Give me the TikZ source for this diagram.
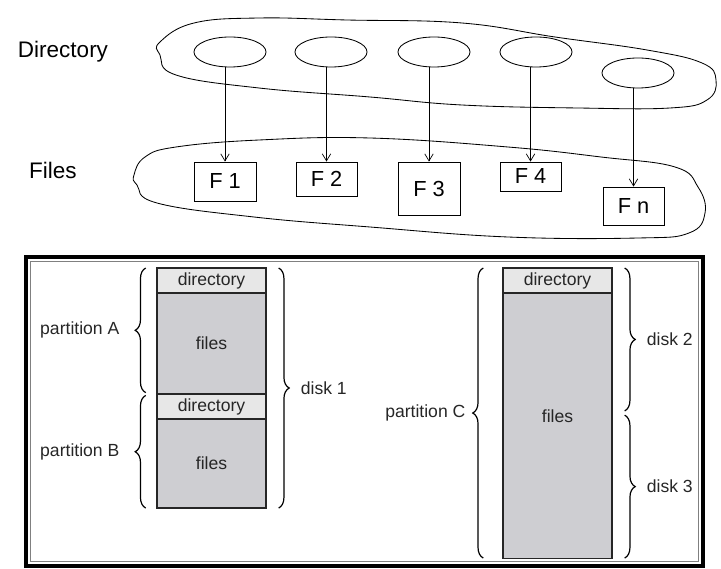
\documentclass[tikz,border=0pt]{standalone}
\usepackage{fontspec}
\setmainfont{Liberation Sans}
\usetikzlibrary{shapes.geometric,positioning,calc,decorations.pathreplacing,arrows.meta}

\definecolor{dirgray}{RGB}{231,231,231}
\definecolor{filegray}{RGB}{206,206,210}

\begin{document}
\begin{tikzpicture}[x=0.025cm,y=-0.025cm,>={Straight Barb[length=5pt,width=6pt]},
    title/.style={font=\fontsize{16}{18}\selectfont},
    dirnode/.style={ellipse,draw,line width=0.6pt,minimum width=1.8cm,minimum height=0.75cm},
    filenode/.style={rectangle,draw,line width=0.6pt,font=\fontsize{15.5}{17}\selectfont},
    dirbox/.style={rectangle,draw=black!85,line width=0.8pt,fill=dirgray,minimum width=2.725cm,
        minimum height=0.625cm,outer sep=0pt,inner sep=0pt,text=black!85,font=\fontsize{12.5}{14}\selectfont},
    filesbox/.style={dirbox,fill=filegray},
    brace/.style={decorate,decoration={brace,amplitude=7.5pt},line width=0.85pt},
    lbl/.style={font=\fontsize{12.5}{14}\selectfont,text=black!85}]
  \useasboundingbox (0,0) rectangle (721,569);

  % single-level directory
  \node[title] (dirlbl) at (63,52) {Directory};
  \node[title] (fileslbl) at (53,170) {Files};
  \draw[line width=0.6pt] plot[smooth cycle,tension=0.7] coordinates {
    (160,42) (194,23) (259,18) (347,20) (462,23) (555,37) (647,50) (702,63)
    (716,80) (707,100) (670,108) (578,108) (462,105) (370,97) (259,88) (176,75) (160,55)};
  \draw[line width=0.6pt] plot[smooth cycle,tension=0.7] coordinates {
    (134,175) (145,157) (176,147) (259,140) (370,138) (508,147) (601,157) (675,167)
    (698,187) (705,213) (689,233) (638,238) (508,237) (370,227) (254,217) (157,203) (137,185)};
  \node[dirnode] (e1) at (230,52) {};
  \node[dirnode] (e2) at (331,52) {};
  \node[dirnode] (e3) at (434,52) {};
  \node[dirnode] (e4) at (536,52) {};
  \node[dirnode] (en) at (638,73) {};
  \node[filenode,minimum width=1.55cm,minimum height=0.975cm] (f1) at (225,181.5) {F 1};
  \node[filenode,minimum width=1.525cm,minimum height=0.85cm] (f2) at (326.5,179) {F 2};
  \node[filenode,minimum width=1.55cm,minimum height=1.325cm] (f3) at (429,188.5) {F 3};
  \node[filenode,minimum width=1.525cm,minimum height=0.725cm] (f4) at (530.5,176.5) {F 4};
  \node[filenode,minimum width=1.525cm,minimum height=0.95cm] (fn) at (633.5,206) {F n};
  \foreach \i in {1,2,3,4,n}
    \draw[->,line width=0.5pt] (f\i |- e\i.south) -- (f\i);

  % partitions and disks
  \draw[line width=2.85pt] (26,257) rectangle (703,566);
  \draw[gray,line width=1pt] (30.5,261.5) rectangle (698.5,561.5);
  \node[dirbox] (dirA) at (211.5,280.5) {directory};
  \node[filesbox,minimum height=2.525cm,below=0pt of dirA] (filesA) {files};
  \node[dirbox,below=0pt of filesA] (dirB) {directory};
  \node[filesbox,minimum height=2.225cm,below=0pt of dirB] (filesB) {files};
  \node[dirbox] (dirC) at (557.5,280.5) {directory};
  \node[filesbox,minimum height=6.625cm,text depth=14pt,below=0pt of dirC] (filesC) {files};

  \draw[brace] ([xshift=-8pt,yshift=1pt]filesA.south west) -- ([xshift=-8pt]dirA.north west)
    node[lbl,midway,left=15pt] (partA) {partition A};
  \draw[brace] ([xshift=-8pt]filesB.south west) -- ([xshift=-8pt,yshift=-1pt]dirB.north west)
    node[lbl,midway,left=15pt] (partB) {partition B};
  \draw[brace] ([xshift=9pt]dirA.north east) -- ([xshift=9pt]filesB.south east)
    node[lbl,midway,right=12pt] (disk1) {disk 1};
  \draw[brace] ([xshift=-14pt]filesC.south west) -- ([xshift=-14pt]dirC.north west)
    node[lbl,midway,left=9pt] (partC) {partition C};
  \coordinate (split) at ($([xshift=9pt]dirC.north east)!0.5!([xshift=9pt]filesC.south east)$);
  \draw[brace] ([xshift=9pt]dirC.north east) -- ([yshift=1.5pt]split)
    node[lbl,midway,right=12pt] (disk2) {disk 2};
  \draw[brace] ([yshift=-1.5pt]split) -- ([xshift=9pt]filesC.south east)
    node[lbl,midway,right=12pt] (disk3) {disk 3};
\end{tikzpicture}
\end{document}
